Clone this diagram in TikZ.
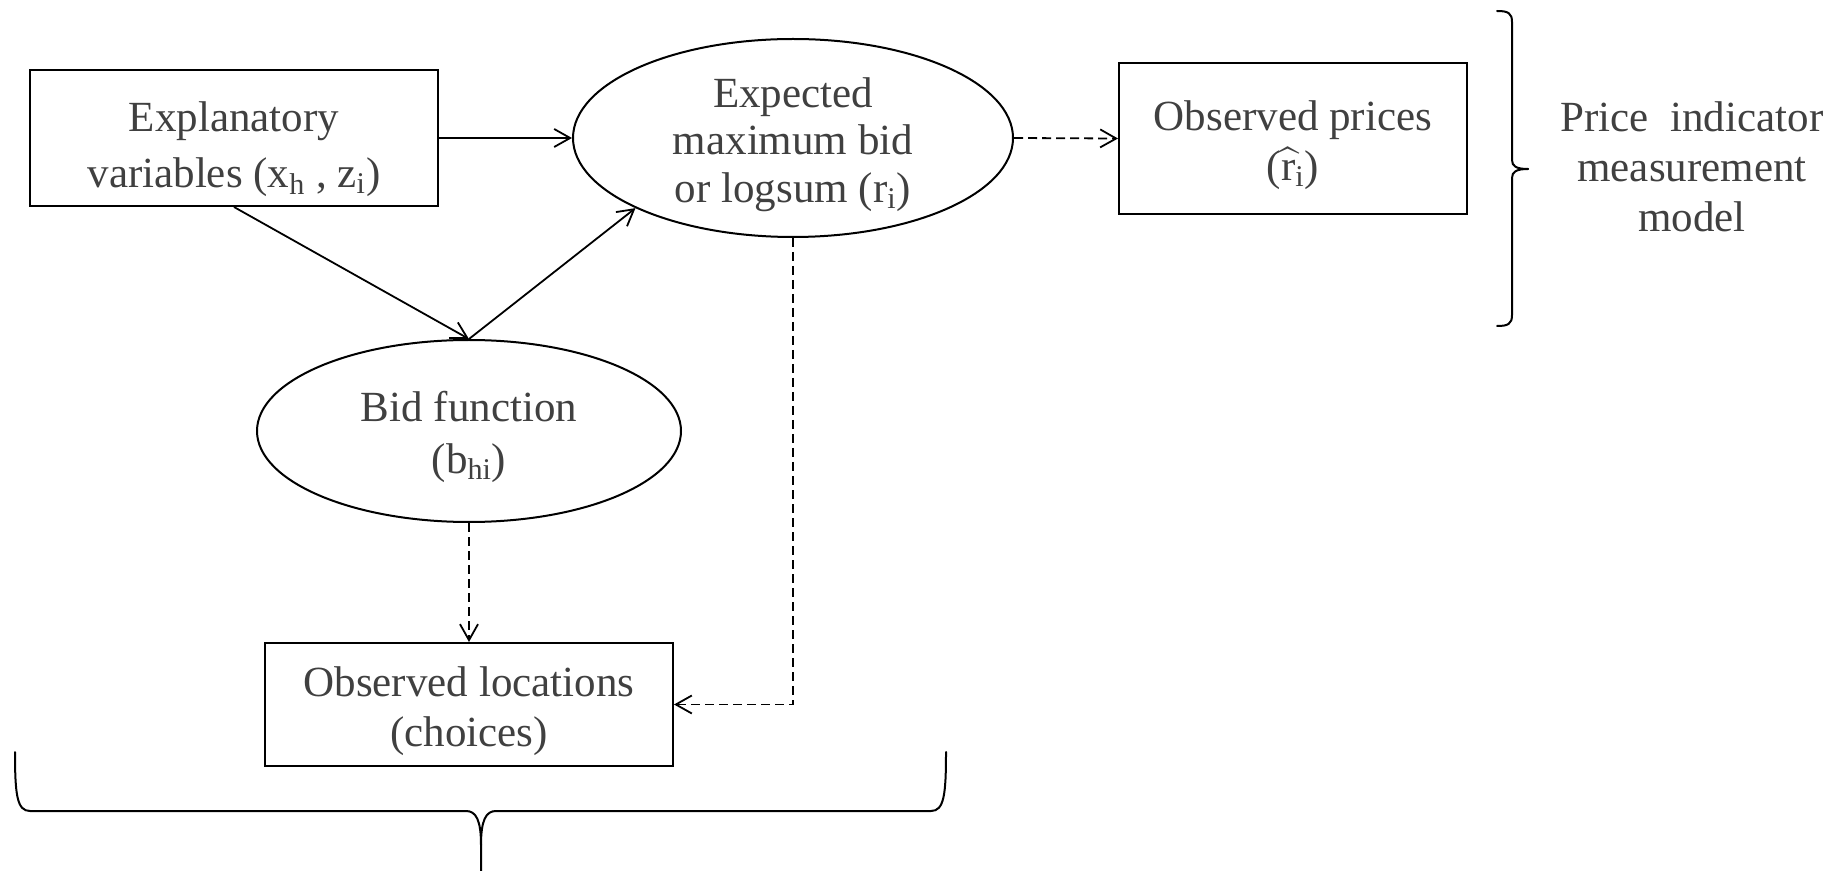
\documentclass[tikz,border=0pt]{standalone}
\usepackage{amsmath}
\usepackage{fontspec}
\setmainfont{Liberation Serif}
\usetikzlibrary{arrows.meta,shapes.geometric}
\definecolor{txt}{RGB}{64,64,64}
\newcommand{\strutto}[1]{\rule{0pt}{#1}}
\begin{document}
\begin{tikzpicture}[x=0.5pt,y=-0.5pt,
  every node/.style={font=\fontsize{21.5pt}{25pt}\selectfont, text=txt, align=center, inner sep=0pt},
  boxnode/.style={draw=black, line width=1pt, rectangle},
  ellnode/.style={draw=black, line width=1pt, ellipse},
  conn/.style={line width=0.9pt, -{Straight Barb[length=8pt,width=9pt]}},
  dconn/.style={conn, dash pattern=on 4.5pt off 2.5pt},
  bracepath/.style={line width=1pt, line cap=round}]
\useasboundingbox (0,0) rectangle (1847,871);

\node[boxnode, minimum width=204pt, minimum height=68pt, font=\fontsize{21.5pt}{28pt}\selectfont] (expl) at (234,138)
  {\strutto{26pt}Explanatory\\variables (x\textsubscript{h} , z\textsubscript{i})};
\node[ellnode, inner sep=-6pt, minimum width=220pt, minimum height=99pt, font=\fontsize{21.5pt}{23.75pt}\selectfont] (exp) at (793,138)
  {\strutto{21.2pt}Expected\\maximum bid\\or logsum (r\textsubscript{i})};
\node[boxnode, minimum width=174pt, minimum height=75.5pt] (prices) at (1293,138.5)
  {\strutto{21.2pt}Observed prices\\(\(\widehat{\mbox{r}}\)\textsubscript{i})};
\node[ellnode, minimum width=212pt, minimum height=91pt, font=\fontsize{21.5pt}{26pt}\selectfont] (bid) at (469,431)
  {\strutto{20.7pt}Bid function\\(b\textsubscript{hi})};
\node[boxnode, minimum width=204pt, minimum height=61.5pt] (loc) at (469,704.5)
  {\strutto{21.7pt}Observed locations\\(choices)};
\node (pim) at (1692,167) {Price\ \ indicator\\measurement\\model};

\draw[conn] (expl.east) -- (exp.west);
\draw[conn] (expl.south) -- (bid.north);
\draw[conn] (bid.north) -- (exp.204);
\draw[dconn] (exp.east) -- (prices.west);
\draw[dconn] (exp.south) |- (loc.east);
\draw[dconn] (bid.south) -- (loc.north);

% bottom brace
\draw[bracepath] (15,752) .. controls (15,795) and (17,811) .. (30,811) -- (466,811)
  .. controls (476,811) and (481,820) .. (481,845) -- (481,871);
\draw[bracepath] (946,752) .. controls (946,795) and (944,811) .. (931,811) -- (496,811)
  .. controls (486,811) and (481,820) .. (481,845);
% right brace
\draw[bracepath] (1497,11) .. controls (1508,11) and (1512,13) .. (1512,22) -- (1512,160)
  .. controls (1512,166) and (1516,169) .. (1528,169);
\draw[bracepath] (1497,326) .. controls (1508,326) and (1512,324) .. (1512,315) -- (1512,178)
  .. controls (1512,172) and (1516,169) .. (1528,169);
\end{tikzpicture}
\end{document}
